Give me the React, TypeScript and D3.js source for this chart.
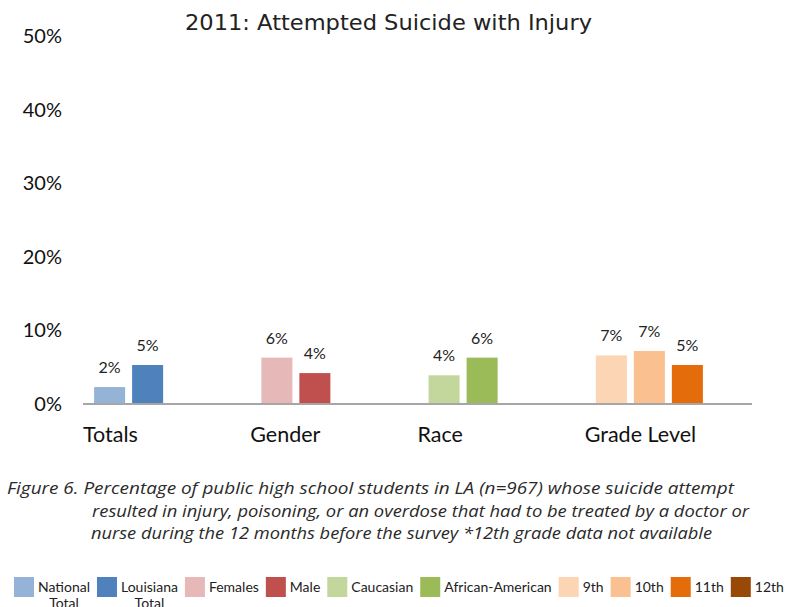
import React from "react";
import * as d3 from "d3";

const groups = ["Totals", "Gender", "Race", "Grade Level"];
const seriesNames = ["National Total", "Louisiana Total", "Females", "Male", "Caucasian", "African-American", "9th", "10th", "11th", "12th"];
const seriesGroup = [0, 0, 1, 1, 2, 2, 3, 3, 3, 3];
const seriesSlot = [0, 1, 0, 1, 0, 1, 0, 1, 2, 3];
const values: (number | null)[] = [2.3, 5.3, 6.3, 4.2, 3.9, 6.3, 6.6, 7.2, 5.3, null];
const colors = ["#95b3d7", "#4f81bd", "#e6b9b8", "#c0504d", "#c3d69b", "#9bbb59", "#fcd5b5", "#fac090", "#e46c0a", "#984807"];
const legendLabels = [["National", "Total"], ["Louisiana", "Total"], ["Females"], ["Male"], ["Caucasian"], ["African-American"], ["9th"], ["10th"], ["11th"], ["12th"]];
const yTicks = [0, 10, 20, 30, 40, 50];
const title = "2011: Attempted Suicide with Injury";
const captionLines = [
  "Figure 6. Percentage of public high school students in LA (n=967) whose suicide attempt",
  "resulted in injury, poisoning, or an overdose that had to be treated by a doctor or",
  "nurse during the 12 months before the survey *12th grade data not available",
];

const W = 801;
const H = 607;
const LEGEND_FONT = "14px Lato";
const captionLayout = [
  { x: 7, len: 727 },
  { x: 92, len: 657 },
  { x: 91, len: 621 },
];

function measure(text: string, font: string): number {
  const c = document.createElement("canvas").getContext("2d");
  if (!c) return text.length * 7;
  c.font = font;
  return c.measureText(text).width;
}

export default function App() {
  const y = d3.scaleLinear().domain([0, 50]).range([404, 36]);
  const x0 = d3.scaleBand<string>().domain(groups).range([83, 752]).padding(0);
  const x1 = d3
    .scaleBand<number>()
    .domain(d3.range(4))
    .range([0, x0.bandwidth()])
    .paddingInner(0.184)
    .paddingOuter(0.292);

  // legend layout
  const legendItems: { x: number; tx: number; lines: string[]; color: string }[] = [];
  let lx = 14;
  legendLabels.forEach((lines, i) => {
    const tw = Math.max(...lines.map((l) => measure(l, LEGEND_FONT)));
    legendItems.push({ x: lx, tx: lx + 24 + tw / 2, lines, color: colors[i] });
    lx += 20 + 4 + tw + 7;
  });

  return (
    <svg
      width={W}
      height={H}
      style={{ position: "absolute", left: 0, top: 0, background: "#fff" }}
      fontFamily="Lato, sans-serif"
    >
      <text
        x={185}
        y={30}
        fontSize={22}
        fontFamily="'DejaVu Sans', sans-serif"
        fill="#222"
        textLength={407}
        lengthAdjust="spacingAndGlyphs"
      >
        {title}
      </text>

      {yTicks.map((t) => (
        <text key={t} x={62} y={y(t) + 7} textAnchor="end" fontSize={20} fill="#111">
          {t}%
        </text>
      ))}

      {values.map((v, i) =>
        v == null ? null : (
          <g key={i}>
            <rect
              x={(x0(groups[seriesGroup[i]]) as number) + (x1(seriesSlot[i]) as number)}
              y={y(v)}
              width={x1.bandwidth()}
              height={y(0) - y(v)}
              fill={colors[i]}
            />
            <text
              x={(x0(groups[seriesGroup[i]]) as number) + (x1(seriesSlot[i]) as number) + x1.bandwidth() / 2}
              y={y(v) - 14}
              textAnchor="middle"
              fontSize={16}
              fill="#222"
            >
              {Math.round(v)}%
            </text>
          </g>
        )
      )}

      <line x1={83} x2={752} y1={y(0)} y2={y(0)} stroke="#a6a6a6" strokeWidth={2} />

      {groups.map((g) => (
        <text key={g} x={x0(g) as number} y={442} fontSize={21.5} fill="#111">
          {g}
        </text>
      ))}

      {captionLines.map((l, i) => (
        <text
          key={i}
          x={captionLayout[i].x}
          y={494 + i * 22.5}
          fontSize={16.5}
          fontStyle="italic"
          fontFamily="'Open Sans', sans-serif"
          fill="#2a2a2a"
          textLength={captionLayout[i].len}
          lengthAdjust="spacingAndGlyphs"
        >
          {l}
        </text>
      ))}

      {legendItems.map((it, i) => (
        <g key={i}>
          <rect x={it.x} y={577} width={20} height={20} fill={it.color} />
          {it.lines.map((l, j) => (
            <text key={j} x={it.tx} y={592 + j * 16} textAnchor="middle" fontSize={14} fill="#222">
              {l}
            </text>
          ))}
        </g>
      ))}
    </svg>
  );
}
